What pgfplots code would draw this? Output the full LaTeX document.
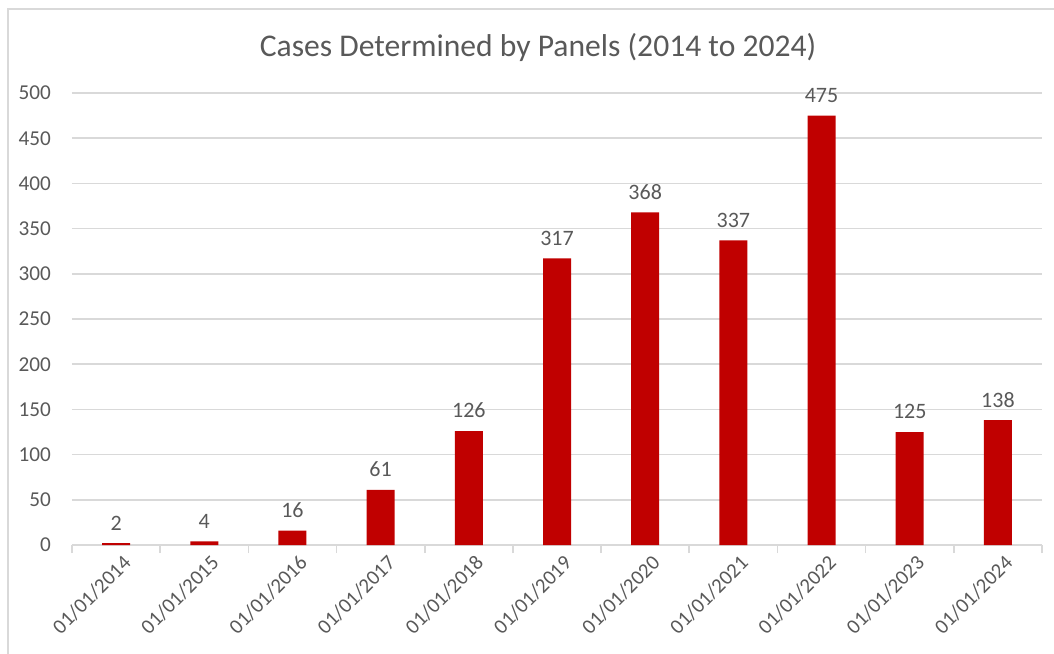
\documentclass[border=0pt]{standalone}
\usepackage{fontspec}
\setmainfont{Carlito}
\usepackage{pgfplots}
\pgfplotsset{compat=1.18}

\definecolor{barred}{HTML}{C00000}
\definecolor{txtgray}{HTML}{595959}
\definecolor{gridgray}{HTML}{D9D9D9}

\begin{document}
\begin{tikzpicture}
% picture frame: 1054 x 653 px at 0.5pt per px, origin at plot-area lower left
\useasboundingbox (-36pt,-54pt) rectangle (491pt,272.5pt);
\draw[gridgray, line width=0.8pt] (-32pt,-60pt) -- (-32pt,268pt) -- (500pt,268pt);

\begin{axis}[
    at={(0,0)}, anchor=south west,
    scale only axis,
    width=485pt, height=226pt,
    ybar, bar width=14pt,
    xmin=-0.5, xmax=10.5,
    ymin=0, ymax=500,
    ytick={0,50,...,500},
    xtick={0,...,10},
    xticklabels={01/01/2014,01/01/2015,01/01/2016,01/01/2017,01/01/2018,01/01/2019,01/01/2020,01/01/2021,01/01/2022,01/01/2023,01/01/2024},
    minor xtick={-0.5,0.5,...,10.5},
    major tick length=0pt,
    minor tick length=4pt,
    tick align=outside,
    xtick pos=bottom,
    ytick pos=left,
    axis x line*=bottom,
    axis y line*=left,
    x axis line style={gridgray, line width=0.8pt},
    y axis line style={draw=none},
    every tick/.style={gridgray, line width=0.8pt},
    ymajorgrids=true,
    grid style={gridgray, line width=0.8pt},
    /pgf/number format/assume math mode=true,
    tick label style={text=txtgray},
    yticklabel style={font=\fontsize{10.6}{13}\selectfont, anchor=east, xshift=-7pt},
    xticklabel style={font=\fontsize{10.4}{13}\selectfont, rotate=45, anchor=north east, inner sep=1pt, xshift=0pt, yshift=-4pt},
    nodes near coords,
    every node near coord/.append style={font=\fontsize{11}{13}\selectfont, text=txtgray, yshift=3pt},
    clip=false,
    ]
\addplot[fill=barred, draw=none] coordinates {
    (0,2) (1,4) (2,16) (3,61) (4,126) (5,317)
    (6,368) (7,337) (8,475) (9,125) (10,138)
};
\end{axis}

\node[text=txtgray, font=\fontsize{15.8}{19}\selectfont] at (233pt,249pt)
    {Cases Determined by Panels (2014 to 2024)};
\end{tikzpicture}
\end{document}
